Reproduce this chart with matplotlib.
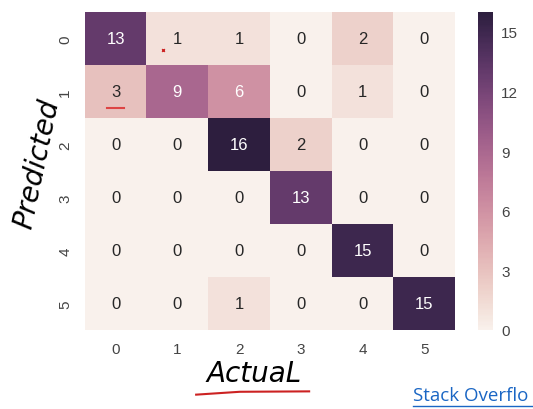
import numpy as np
import matplotlib
matplotlib.use("Agg")
import matplotlib.pyplot as plt
import seaborn as sns

# confusion matrix values, rows = predicted, cols = actual
labels = ["0", "1", "2", "3", "4", "5"]
row_0 = [13, 1, 1, 0, 2, 0]
row_1 = [3, 9, 6, 0, 1, 0]
row_2 = [0, 0, 16, 2, 0, 0]
row_3 = [0, 0, 0, 13, 0, 0]
row_4 = [0, 0, 0, 0, 15, 0]
row_5 = [0, 0, 1, 0, 0, 15]
cbar_ticks = [0, 3, 6, 9, 12, 15]

cm = np.array([row_0, row_1, row_2, row_3, row_4, row_5])

plt.rcParams['font.family'] = ['Liberation Sans', 'DejaVu Sans']

fig = plt.figure(figsize=(5.33, 4.10), dpi=100)
ax = fig.add_axes([0.159, 0.193, 0.695, 0.775])
cax = fig.add_axes([0.897, 0.193, 0.028, 0.775])

cmap = sns.cubehelix_palette(light=.95, as_cmap=True)
sns.heatmap(cm, annot=True, fmt="d", cmap=cmap, vmin=0, vmax=16,
            ax=ax, cbar_ax=cax, xticklabels=labels, yticklabels=labels,
            annot_kws={"size": 12})

ax.tick_params(length=0, labelsize=11, colors="#444444", pad=9)
ax.set_yticklabels(labels, rotation=90, va="center")
ax.set_xticklabels(labels, rotation=0)

cax.tick_params(length=0, labelsize=11, colors="#444444", pad=6)
cax.set_yticks(cbar_ticks)
for s in cax.spines.values():
    s.set_visible(False)

# handwritten notes
fig.text(0.476, 0.088, "ActuaL", fontsize=20, family="DejaVu Sans",
         ha="center", va="center", fontstyle="italic", fontweight="light",
         color="black")
fig.text(0.07, 0.6, "Predicted", fontsize=20, family="DejaVu Sans",
         ha="center", va="center", rotation=78, fontstyle="italic",
         fontweight="light", color="black")
fig.add_artist(plt.Line2D([0.368, 0.45, 0.58], [0.035, 0.042, 0.043],
                          color="#cc2222", lw=1.5))
fig.add_artist(plt.Line2D([0.2, 0.232], [0.735, 0.735], color="#dd4444", lw=1.5))
fig.add_artist(plt.Line2D([0.305], [0.876], marker="x", ms=2, color="#cc2222", lw=0))

# link text, cut off at the right edge in the source
fig.text(0.775, 0.035, "Stack Overflo", fontsize=13.5, color="#1a66c4",
         family="Open Sans", ha="left", va="center")
fig.add_artist(plt.Line2D([0.775, 1.0], [0.008, 0.008], color="#1a66c4", lw=1))

fig.savefig("out.png", dpi=100)
